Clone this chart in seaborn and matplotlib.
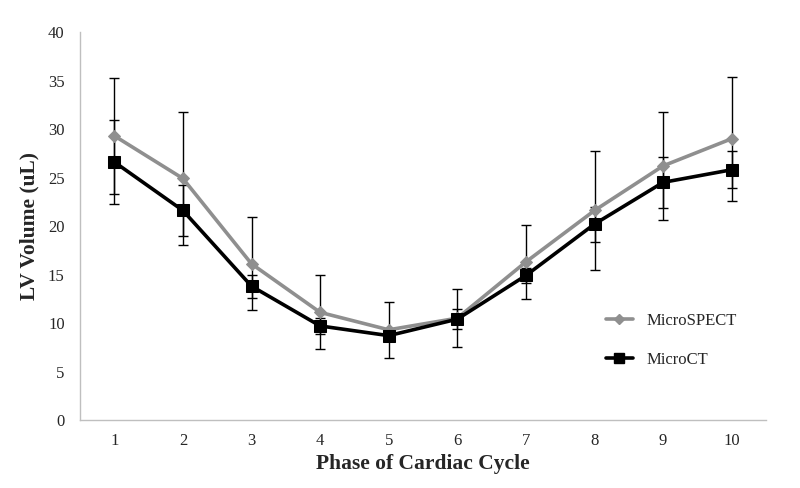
import pandas as pd
import matplotlib
matplotlib.use("Agg")
import matplotlib.pyplot as plt
import seaborn as sns
from matplotlib.lines import Line2D

# values
phases = [1, 2, 3, 4, 5, 6, 7, 8, 9, 10]
spect_vol = [29.3, 24.9, 16.1, 11.1, 9.3, 10.5, 16.3, 21.6, 26.2, 29.0]
spect_err = [5.95, 6.85, 4.8, 3.8, 2.9, 3.0, 3.8, 6.1, 5.6, 6.4]
ct_vol = [26.6, 21.6, 13.8, 9.7, 8.7, 10.4, 14.9, 20.2, 24.5, 25.8]
ct_err = [4.3, 2.6, 1.2, 0.85, 0.5, 1.05, 0.8, 1.8, 2.6, 1.9]

series_names = ["MicroSPECT", "MicroCT"]
colors = {"MicroSPECT": "#8f8f8f", "MicroCT": "#000000"}
markers = {"MicroSPECT": "D", "MicroCT": "s"}

df = pd.concat([
    pd.DataFrame({"Phase": phases, "Volume": spect_vol, "Err": spect_err, "Series": "MicroSPECT"}),
    pd.DataFrame({"Phase": phases, "Volume": ct_vol, "Err": ct_err, "Series": "MicroCT"}),
])

sns.set_style("white")
plt.rcParams["font.family"] = ["Liberation Serif", "DejaVu Serif"]

fig = plt.figure(figsize=(8, 4.88), dpi=100)
ax = fig.add_axes([0.1, 0.1393, 0.8575, 0.7951])

# error bars (drawn first so the markers sit on top)
for name, err in zip(series_names, [spect_err, ct_err]):
    sub = df[df["Series"] == name]
    ax.errorbar(sub["Phase"], sub["Volume"], yerr=err, fmt="none",
                ecolor="black", elinewidth=1, capsize=3.3, capthick=1, zorder=2)

for name in series_names:
    sub = df[df["Series"] == name]
    sns.lineplot(data=sub, x="Phase", y="Volume", ax=ax, color=colors[name],
                 linewidth=2.6, marker=markers[name],
                 markersize=6.5 if name == "MicroSPECT" else 8.5,
                 markeredgecolor=colors[name], zorder=3 if name == "MicroSPECT" else 4)

ax.set_xlim(0.5, 10.5)
ax.set_ylim(0, 40)
ax.set_yticks(range(0, 41, 5))
ax.set_xticks(phases)
ax.set_xticks([p + 0.5 for p in [0] + phases], minor=True)
ax.tick_params(axis="x", which="major", length=0, labelsize=12, pad=9)
ax.tick_params(axis="x", which="minor", length=5, color="#bfbfbf", width=1, direction="out")
ax.tick_params(axis="y", length=5, color="#bfbfbf", width=1, labelsize=12, direction="out", pad=6)

for s in ["top", "right"]:
    ax.spines[s].set_visible(False)
for s in ["left", "bottom"]:
    ax.spines[s].set_color("#bfbfbf")
    ax.spines[s].set_linewidth(1)

ax.set_xlabel("Phase of Cardiac Cycle", fontsize=15.5, fontweight="bold", labelpad=4)
ax.set_ylabel("LV Volume (uL)", fontsize=15.5, fontweight="bold", labelpad=6)

handles = [
    Line2D([0], [0], color=colors["MicroSPECT"], lw=2.6, marker="D", markersize=5,
           markeredgecolor=colors["MicroSPECT"]),
    Line2D([0], [0], color="black", lw=2.6, marker="s", markersize=7),
]
ax.legend(handles, series_names, loc="center left", bbox_to_anchor=(0.745, 0.205),
          frameon=False, fontsize=12, handlelength=1.6, labelspacing=1.4,
          handletextpad=0.8)

fig.savefig("out.png", dpi=100)
